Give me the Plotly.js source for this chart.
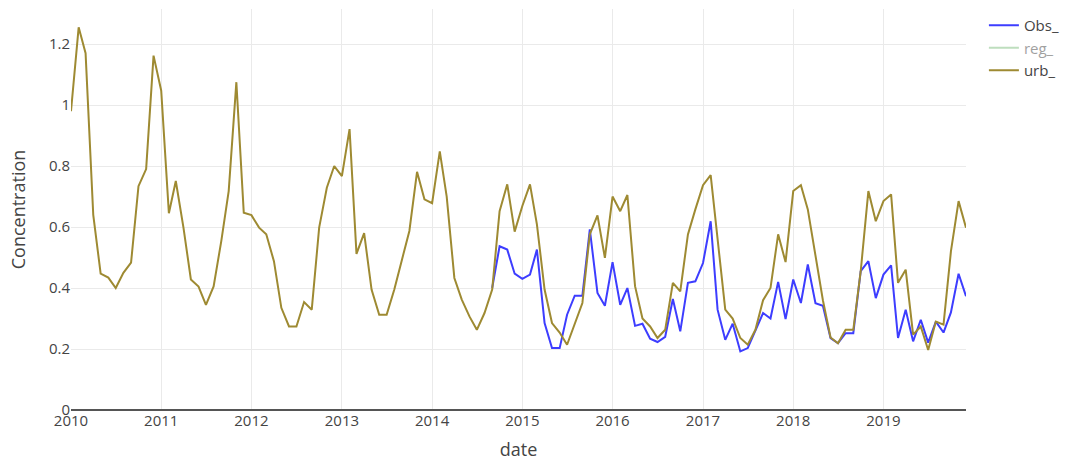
<!DOCTYPE html>
<html>
<head>
<meta charset="utf-8">
<script src="https://cdn.plot.ly/plotly-3.0.1.min.js"></script>
<style>
  html, body { margin: 0; padding: 0; background: #fff; }
  #chart { width: 1077px; height: 461px; }
</style>
</head>
<body>
<div id="chart"></div>
<script>
// Monthly series, first month of each series
const urbStart = [2010, 1];
const obsStart = [2014, 9];

// urb_ : Jan 2010 .. Dec 2019
const urbValues = [
  0.98, 1.255, 1.17, 0.64, 0.447, 0.434, 0.40, 0.45, 0.483, 0.734, 0.79, 1.162,
  1.047, 0.645, 0.751, 0.598, 0.428, 0.405, 0.345, 0.405, 0.554, 0.718, 1.075, 0.647,
  0.639, 0.598, 0.576, 0.488, 0.335, 0.274, 0.274, 0.354, 0.329, 0.598, 0.729, 0.80,
  0.767, 0.921, 0.512, 0.58, 0.395, 0.3125, 0.3125, 0.395, 0.493, 0.587, 0.781, 0.691,
  0.678, 0.848, 0.70, 0.433, 0.362, 0.307, 0.263, 0.318, 0.395, 0.652, 0.74, 0.585,
  0.669, 0.74, 0.609, 0.395, 0.285, 0.254, 0.214, 0.28, 0.351, 0.576, 0.638, 0.499,
  0.70, 0.652, 0.705, 0.406, 0.30, 0.274, 0.236, 0.263, 0.417, 0.389, 0.576, 0.658,
  0.737, 0.77, 0.55, 0.329, 0.30, 0.236, 0.214, 0.263, 0.36, 0.40, 0.576, 0.485,
  0.718, 0.737, 0.658, 0.51, 0.36, 0.238, 0.219, 0.263, 0.263, 0.455, 0.718, 0.619,
  0.685, 0.707, 0.417, 0.46, 0.247, 0.274, 0.197, 0.29, 0.28, 0.52, 0.685, 0.598
];

// Obs_ : Sep 2014 .. Dec 2019
const obsValues = [
  0.40, 0.537, 0.526, 0.447,
  0.43, 0.444, 0.526, 0.285, 0.203, 0.203, 0.3125, 0.375, 0.375, 0.592, 0.384, 0.342,
  0.485, 0.345, 0.40, 0.276, 0.283, 0.234, 0.223, 0.24, 0.364, 0.258, 0.417, 0.422,
  0.482, 0.619, 0.329, 0.23, 0.283, 0.192, 0.203, 0.258, 0.318, 0.30, 0.42, 0.298,
  0.428, 0.351, 0.477, 0.35, 0.342, 0.236, 0.219, 0.252, 0.252, 0.455, 0.488, 0.367,
  0.444, 0.474, 0.236, 0.329, 0.225, 0.296, 0.221, 0.29, 0.254, 0.32, 0.447, 0.373
];

// reg_ is hidden (legend only) in the reference, so its values are not visible
const regValues = [null];

const seriesNames = ['Obs_', 'reg_', 'urb_'];
const seriesColors = ['#3d3dff', '#7fbf7f', '#9e8a32'];

function monthDates(start, n) {
  const out = [];
  let y = start[0], m = start[1];
  for (let i = 0; i < n; i++) {
    out.push(y + '-' + String(m).padStart(2, '0') + '-01');
    m++;
    if (m > 12) { m = 1; y++; }
  }
  return out;
}

const traces = [
  {
    x: monthDates(obsStart, obsValues.length), y: obsValues,
    type: 'scatter', mode: 'lines', name: seriesNames[0],
    line: { color: seriesColors[0], width: 2 }
  },
  {
    x: monthDates(urbStart, regValues.length), y: regValues,
    type: 'scatter', mode: 'lines', name: seriesNames[1],
    visible: 'legendonly', showlegend: true,
    line: { color: seriesColors[1], width: 2 }
  },
  {
    x: monthDates(urbStart, urbValues.length), y: urbValues,
    type: 'scatter', mode: 'lines', name: seriesNames[2],
    line: { color: seriesColors[2], width: 2 }
  }
];

const layout = {
  width: 1077, height: 461,
  margin: { l: 71, r: 111, t: 9, b: 51 },
  paper_bgcolor: '#fff', plot_bgcolor: '#fff',
  font: { family: 'Open Sans, sans-serif', size: 15, color: '#444' },
  showlegend: true,
  legend: { x: 1.02, y: 1, font: { size: 15 } },
  xaxis: {
    type: 'date',
    tick0: '2010-01-01', dtick: 'M12', tickformat: '%Y',
    gridcolor: '#eaeaea', showline: false, zeroline: false,
    title: { text: 'date', font: { size: 18 }, standoff: 16 }
  },
  yaxis: {
    range: [0, 1.315], dtick: 0.2,
    gridcolor: '#eaeaea', zeroline: true, zerolinecolor: '#555', zerolinewidth: 2,
    title: { text: 'Concentration', font: { size: 18 }, standoff: 18 }
  }
};

Plotly.newPlot('chart', traces, layout, { displayModeBar: false, staticPlot: true });
</script>
</body>
</html>
